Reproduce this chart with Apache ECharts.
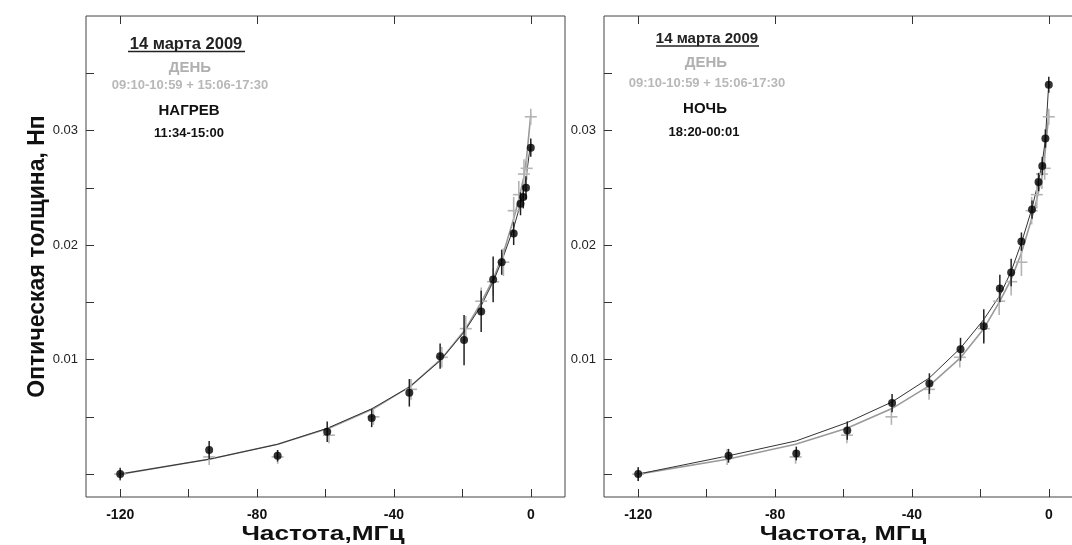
<!DOCTYPE html>
<html>
<head>
<meta charset="utf-8">
<script src="https://cdn.jsdelivr.net/npm/echarts@6/dist/echarts.min.js"></script>
<style>
  html, body { margin: 0; padding: 0; background: #fff; }
  #chart { width: 1072px; height: 545px; }
</style>
</head>
<body>
<div id="chart"></div>
<script>
// ---- Data ----
// ДЕНЬ 09:10-10:59 + 15:06-17:30 (grey crosses + grey fit), same in both panels
const dayX   = [-120, -94, -74, -59, -46, -35, -26, -19, -14.5, -11, -8, -5, -3.5, -2, -1.2, 0];
const dayV   = [0, 0.0015, 0.0015, 0.0034, 0.0050, 0.0074, 0.0102, 0.0127, 0.0151, 0.0168, 0.0185, 0.0230, 0.0244, 0.0262, 0.0267, 0.0312];
const dayErr = [0.0006, 0.0007, 0.0006, 0.0007, 0.0007, 0.0009, 0.0009, 0.0011, 0.0012, 0.0012, 0.0012, 0.0012, 0.0012, 0.0013, 0.0010, 0.0007];
const dayFit = [0, 0.0013, 0.0026, 0.0040, 0.0057, 0.0077, 0.0101, 0.0127, 0.0150, 0.0170, 0.0193, 0.0223, 0.0240, 0.0260, 0.0277, 0.0314];

// НАГРЕВ 11:34-15:00 (left panel, black dots + black fit)
const heatX   = [-120, -94, -74, -59.5, -46.5, -35.5, -26.5, -19.5, -14.5, -11, -8.5, -5, -3, -2.2, -1.4, 0];
const heatV   = [0, 0.0021, 0.0016, 0.0037, 0.0049, 0.0071, 0.0103, 0.0117, 0.0142, 0.0170, 0.0185, 0.0210, 0.0236, 0.0242, 0.0250, 0.0285];
const heatErr = [0.0005, 0.0008, 0.0005, 0.0009, 0.0008, 0.0012, 0.0011, 0.0022, 0.0018, 0.0020, 0.0011, 0.0010, 0.0010, 0.0010, 0.0010, 0.0008];
const heatFit = [0, 0.0013, 0.0026, 0.0040, 0.0057, 0.0076, 0.0099, 0.0124, 0.0147, 0.0168, 0.0186, 0.0215, 0.0236, 0.0246, 0.0258, 0.0290];

// НОЧЬ 18:20-00:01 (right panel, black dots + black fit)
const nightX   = [-120, -93.6, -73.8, -58.9, -45.8, -34.9, -25.8, -19, -14.3, -11, -8, -4.9, -3, -1.9, -1, 0];
const nightV   = [0, 0.0016, 0.0018, 0.0038, 0.0062, 0.0079, 0.0109, 0.0129, 0.0162, 0.0176, 0.0203, 0.0231, 0.0255, 0.0269, 0.0293, 0.0340];
const nightErr = [0.0006, 0.0006, 0.0006, 0.0008, 0.0008, 0.0009, 0.0010, 0.0015, 0.0012, 0.0012, 0.0008, 0.0008, 0.0008, 0.0008, 0.0008, 0.0007];
const nightFit = [0, 0.0016, 0.0029, 0.0045, 0.0063, 0.0084, 0.0110, 0.0135, 0.0156, 0.0177, 0.0202, 0.0232, 0.0256, 0.0272, 0.0292, 0.0342];

// Axis ticks / labels
const xTickVals  = [-120, -100, -80, -60, -40, -20, 0];
const xLabelVals = [-120, -80, -40, 0];
const yTickVals  = [0, 0.005, 0.01, 0.015, 0.02, 0.025, 0.03, 0.035];
const yLabelVals = [0.01, 0.02, 0.03];

const xTitles = ['Частота,МГц', 'Частота, МГц'];
const yTitle  = 'Оптическая толщина, Нп';

// ---- Build ----
const FONT = "'Liberation Sans', Arial, sans-serif";
const AX = '#333';

function zip(xs, ys) { return xs.map((x, i) => [x, ys[i]]); }
function zip3(xs, ys, es) { return xs.map((x, i) => [x, ys[i], es[i]]); }

const grids = [
  { left: 86, top: 16, width: 479, height: 481, show: true, borderColor: '#444', borderWidth: 1,
    backgroundColor: 'transparent', outerBoundsMode: 'none', containLabel: false },
  { left: 604, top: 16, width: 479, height: 481, show: true, borderColor: '#444', borderWidth: 1,
    backgroundColor: 'transparent', outerBoundsMode: 'none', containLabel: false }
];

const xAxes = [], yAxes = [];
[0, 1].forEach(g => {
  xAxes.push({
    type: 'value', gridIndex: g, position: 'bottom', min: -130, max: 10,
    axisLine: { show: false, onZero: false },
    axisTick: { show: true, inside: true, length: 8, customValues: xTickVals, lineStyle: { color: AX, width: 1 } },
    axisLabel: { show: true, customValues: xLabelVals, margin: 11, fontFamily: FONT, fontWeight: 'bold', fontSize: 14, color: '#111' },
    splitLine: { show: false }
  });
  xAxes.push({
    type: 'value', gridIndex: g, position: 'top', min: -130, max: 10,
    axisLine: { show: false, onZero: false },
    axisTick: { show: true, inside: true, length: 8, customValues: xLabelVals, lineStyle: { color: AX, width: 1 } },
    axisLabel: { show: false },
    splitLine: { show: false }
  });
  yAxes.push({
    type: 'value', gridIndex: g, position: 'left', min: -0.002, max: 0.04,
    name: g === 0 ? yTitle : '', nameLocation: 'middle', nameGap: 33,
    nameTextStyle: { fontFamily: FONT, fontWeight: 'bold', fontSize: 23, color: '#111' },
    axisLine: { show: false, onZero: false },
    axisTick: { show: true, inside: true, length: 8, customValues: yTickVals, lineStyle: { color: AX, width: 1 } },
    axisLabel: { show: true, customValues: yLabelVals, margin: 8, fontFamily: FONT, fontSize: 13, color: '#222',
                 formatter: v => v.toFixed(2) },
    splitLine: { show: false }
  });
});

function errBarRender(color, width) {
  return function (params, api) {
    const x = api.value(0), v = api.value(1), e = api.value(2);
    const p1 = api.coord([x, v - e]), p2 = api.coord([x, v + e]);
    return { type: 'line', shape: { x1: p1[0], y1: p1[1], x2: p2[0], y2: p2[1] },
             style: { stroke: color, lineWidth: width } };
  };
}
function crossRender(color) {
  return function (params, api) {
    const x = api.value(0), v = api.value(1), e = api.value(2);
    const p1 = api.coord([x, v - e]), p2 = api.coord([x, v + e]), c = api.coord([x, v]);
    return { type: 'group', children: [
      { type: 'line', shape: { x1: p1[0], y1: p1[1], x2: p2[0], y2: p2[1] }, style: { stroke: color, lineWidth: 1.6 } },
      { type: 'line', shape: { x1: c[0] - 6, y1: c[1], x2: c[0] + 6, y2: c[1] }, style: { stroke: color, lineWidth: 1.6 } }
    ] };
  };
}

const panels = [
  { blackX: heatX, blackV: heatV, blackErr: heatErr, blackFit: heatFit },
  { blackX: nightX, blackV: nightV, blackErr: nightErr, blackFit: nightFit }
];

const series = [];
panels.forEach((p, g) => {
  const xi = g * 2, yi = g;
  series.push({ type: 'line', xAxisIndex: xi, yAxisIndex: yi, data: zip(dayX, dayFit), showSymbol: false,
                lineStyle: { color: '#9a9a9a', width: 1.6 }, silent: true, z: 2 });
  series.push({ type: 'line', xAxisIndex: xi, yAxisIndex: yi, data: zip(p.blackX, p.blackFit), showSymbol: false,
                lineStyle: { color: '#333', width: 1 }, silent: true, z: 3 });
  series.push({ type: 'custom', xAxisIndex: xi, yAxisIndex: yi, data: zip3(dayX, dayV, dayErr),
                encode: { x: 0, y: 1 }, renderItem: crossRender('#b4b4b4'), silent: true, z: 4 });
  series.push({ type: 'custom', xAxisIndex: xi, yAxisIndex: yi, data: zip3(p.blackX, p.blackV, p.blackErr),
                encode: { x: 0, y: 1 }, renderItem: errBarRender('#222', 1.5), silent: true, z: 5 });
  series.push({ type: 'scatter', xAxisIndex: xi, yAxisIndex: yi, data: zip(p.blackX, p.blackV),
                symbol: 'circle', symbolSize: 8, itemStyle: { color: '#000' }, silent: true, z: 6 });
});

function txt(x, y, text, size, color, scaleX) {
  return { type: 'text', x: x, y: y, scaleX: scaleX || 1, silent: true, z: 100,
           style: { text: text, align: 'center', verticalAlign: 'middle',
                    fontFamily: FONT, fontSize: size, fontWeight: 'bold', fill: color } };
}
function uline(x1, x2, y) {
  return { type: 'line', silent: true, z: 100, shape: { x1: x1, y1: y, x2: x2, y2: y }, style: { stroke: '#222', lineWidth: 1.5 } };
}

const graphic = [
  txt(186, 44, '14 марта 2009', 16.5, '#222'),
  uline(128, 245, 51.5),
  txt(190, 68, 'ДЕНЬ', 15, '#b0b0b0'),
  txt(190, 85, '09:10-10:59 + 15:06-17:30', 13, '#b8b8b8'),
  txt(189, 111, 'НАГРЕВ', 15, '#111'),
  txt(189, 133, '11:34-15:00', 13, '#111'),

  txt(707, 39, '14 марта 2009', 15, '#222'),
  uline(656, 759, 46),
  txt(706, 63, 'ДЕНЬ', 15, '#b0b0b0'),
  txt(707, 83, '09:10-10:59 + 15:06-17:30', 13, '#b8b8b8'),
  txt(705, 109, 'НОЧЬ', 15, '#111'),
  txt(704, 132, '18:20-00:01', 13, '#111'),

  // axis titles of the frequency axes
  txt(323, 534, xTitles[0], 21, '#111', 1.25),
  txt(843, 534, xTitles[1], 21, '#111', 1.22)
];

const chart = echarts.init(document.getElementById('chart'), null, { renderer: 'canvas' });
chart.setOption({
  animation: false,
  backgroundColor: '#fff',
  grid: grids,
  xAxis: xAxes,
  yAxis: yAxes,
  series: series,
  graphic: graphic
});
</script>
</body>
</html>
